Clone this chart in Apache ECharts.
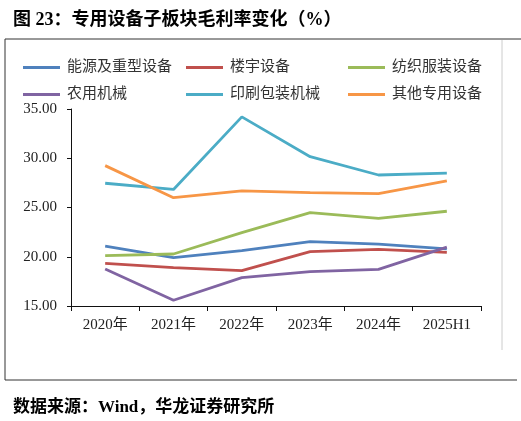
<!DOCTYPE html>
<html>
<head>
  <meta charset="utf-8">
  <title>专用设备子板块毛利率变化</title>
  <script src="https://cdn.jsdelivr.net/npm/echarts@6/dist/echarts.min.js"></script>
  <style>
    html, body { margin: 0; padding: 0; background: #fff; }
    #chart { width: 521px; height: 421px; }
  </style>
</head>
<body>
<div id="chart"></div>
<script>
  // 数据
  var years = ['2020年', '2021年', '2022年', '2023年', '2024年', '2025H1'];
  var energy = [21.09, 19.91, 20.62, 21.53, 21.29, 20.80];    // 能源及重型设备
  var building = [19.33, 18.89, 18.59, 20.52, 20.75, 20.45];  // 楼宇设备
  var textile = [20.11, 20.28, 22.45, 24.48, 23.90, 24.62];   // 纺织服装设备
  var farm = [18.76, 15.58, 17.88, 18.49, 18.72, 20.98];      // 农用机械
  var printing = [27.46, 26.83, 34.20, 30.16, 28.30, 28.50];  // 印刷包装机械
  var others = [29.25, 26.00, 26.68, 26.50, 26.40, 27.70];    // 其他专用设备

  var names = ['能源及重型设备', '楼宇设备', '纺织服装设备', '农用机械', '印刷包装机械', '其他专用设备'];
  var values = [energy, building, textile, farm, printing, others];
  var colors = ['#4F81BD', '#C0504D', '#9BBB59', '#8064A2', '#4BACC6', '#F79646'];

  var chart = echarts.init(document.getElementById('chart'));

  var serif = '"Liberation Serif", "Noto Sans CJK SC", serif';
  var cjk = '"Liberation Serif", "Noto Sans CJK SC", sans-serif';

  function legendCol(left, items) {
    return {
      left: left,
      top: 55,
      orient: 'vertical',
      itemGap: 12,
      itemWidth: 37,
      itemHeight: 3,
      icon: 'rect',
      data: items,
      textStyle: { fontFamily: cjk, fontSize: 15, color: '#333', padding: [0, 0, 0, 2] }
    };
  }

  chart.setOption({
    backgroundColor: '#fff',
    color: colors,
    animation: false,
    title: [{
      text: '图 23：专用设备子板块毛利率变化（%）',
      left: 8,
      top: 6,
      textStyle: { fontFamily: cjk, fontSize: 18, fontWeight: 'bold', color: '#000' }
    }, {
      text: '数据来源：Wind，华龙证券研究所',
      left: 8,
      top: 394,
      textStyle: { fontFamily: cjk, fontSize: 17, fontWeight: 'bold', color: '#000' }
    }],
    //左中右三列图例
    legend: [
      legendCol(18, [names[0], names[3]]),
      legendCol(181, [names[1], names[4]]),
      legendCol(343, [names[2], names[5]])
    ],
    grid: { left: 71, right: 40, top: 109, bottom: 115 },
    xAxis: {
      type: 'category',
      data: years,
      boundaryGap: true,
      axisLine: { lineStyle: { color: '#111', width: 1 } },
      axisTick: { show: true, length: 5, lineStyle: { color: '#111' } },
      axisLabel: { fontFamily: serif, fontSize: 15, color: '#222', margin: 12 }
    },
    yAxis: {
      type: 'value',
      min: 15,
      max: 35,
      interval: 5,
      axisLine: { show: true, lineStyle: { color: '#111', width: 1 } },
      axisTick: { show: true, length: 4, lineStyle: { color: '#111' } },
      splitLine: { show: false },
      axisLabel: {
        fontFamily: serif, fontSize: 15, color: '#222', margin: 14,
        formatter: function (v) { return v.toFixed(2); }
      }
    },
    series: names.map(function (n, i) {
      return {
        name: n,
        type: 'line',
        data: values[i],
        symbol: 'none',
        lineStyle: { width: 2.8, color: colors[i] },
        itemStyle: { color: colors[i] }
      };
    }),
    // 外框线
    graphic: [
      { type: 'line', shape: { x1: 5, y1: 39, x2: 521, y2: 39 }, style: { stroke: '#333', lineWidth: 1 } },
      { type: 'line', shape: { x1: 5, y1: 39, x2: 5, y2: 380 }, style: { stroke: '#333', lineWidth: 1 } },
      { type: 'line', shape: { x1: 5, y1: 380, x2: 517, y2: 380 }, style: { stroke: '#333', lineWidth: 1 } },
      { type: 'line', shape: { x1: 502, y1: 40, x2: 502, y2: 350 }, style: { stroke: '#ccc', lineWidth: 1 } }
    ]
  });
</script>
</body>
</html>
